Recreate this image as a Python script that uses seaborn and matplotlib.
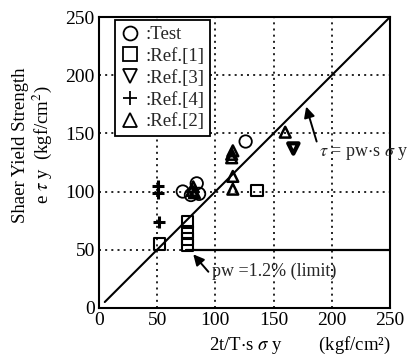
import matplotlib
matplotlib.use("Agg")
import matplotlib.pyplot as plt
from matplotlib.lines import Line2D
import seaborn as sns
import pandas as pd
import numpy as np

# data
test_x = [72, 84, 86, 79, 126]
test_y = [100, 107, 98, 97, 143]
ref1_x = [52, 76, 76, 76, 76, 136]
ref1_y = [55, 74, 65, 59, 54, 101]
ref3_x = [167]
ref3_y = [137]
ref4_x = [51, 51, 52]
ref4_y = [105, 99, 74]
ref2_x = [80, 81, 82, 114, 114, 115, 115, 115, 160]
ref2_y = [101, 104, 99, 129, 132, 135, 113, 102, 151]

labels = [":Test", ":Ref.[1]", ":Ref.[3]", ":Ref.[4]", ":Ref.[2]"]
limit_y = 49.5

sns.set_theme(style="white")
plt.rcParams["font.family"] = ["Liberation Serif", "DejaVu Serif"]
plt.rcParams["mathtext.fontset"] = "stix"

fig = plt.figure(figsize=(4.14, 3.63), dpi=100)
ax = fig.add_axes([0.239, 0.152, 0.703, 0.801])

groups = [
    (test_x, test_y, "o", 80, 1.3),
    (ref1_x, ref1_y, "s", 70, 1.5),
    (ref3_x, ref3_y, "v", 55, 3.0),
    (ref4_x, ref4_y, "+", 80, 2.2),
    (ref2_x, ref2_y, "^", 60, 1.8),
]
handles = []
for (xs, ys, m, s, lw), lab in zip(groups, labels):
    df = pd.DataFrame({"x": xs, "y": ys})
    if m == "+":
        sns.scatterplot(data=df, x="x", y="y", marker=m, s=s, color="black",
                        linewidth=lw, ax=ax, zorder=4)
    else:
        sns.scatterplot(data=df, x="x", y="y", marker=m, s=s, facecolor="none",
                        edgecolor="black", linewidth=lw, ax=ax, zorder=4)
    handles.append(Line2D([], [], marker=m, linestyle="none", markersize=10,
                          markerfacecolor="none", markeredgecolor="black",
                          markeredgewidth=1.3, label=lab))

# tau = pw * s sigma y  and the pw = 1.2% limit
line = np.array([5, 250])
ax.plot(line, line, color="black", lw=1.5, zorder=3)
ax.plot([75, 250], [limit_y, limit_y], color="black", lw=1.6, zorder=3)

ax.set_xlim(0, 250)
ax.set_ylim(0, 250)
ax.set_xticks(range(0, 251, 50))
ax.set_yticks(range(0, 251, 50))
ax.set_xticks(range(0, 251, 10), minor=True)
ax.set_yticks(range(0, 251, 10), minor=True)
ax.tick_params(axis="both", which="major", direction="in", length=9, width=1.3,
               labelsize=14, pad=3, colors="black")
ax.tick_params(axis="both", which="minor", direction="in", length=5, width=1.2)
ax.tick_params(top=False, right=False, which="both")
ax.grid(True, which="major", linestyle=(0, (1.2, 2.5)), color="black", lw=1.2)
for sp in ax.spines.values():
    sp.set_color("black")
    sp.set_linewidth(1.5)

ax.set_xlabel("2t/T$\\cdot$s $\\sigma$ y        (kgf/cm²)", fontsize=13.5,
              color="black", labelpad=4, x=0.69)
ax.set_ylabel("Shaer Yield Strength\ne $\\tau$ y  (kgf/cm$^2$)", fontsize=13.5,
              color="black", labelpad=8, y=0.56, linespacing=1.1)

ax.text(189, 133, "$\\tau$ = pw$\\cdot$s $\\sigma$ y", fontsize=13,
        ha="left", va="center", clip_on=False)
ax.annotate("", xy=(178, 173), xytext=(187, 143),
            arrowprops=dict(arrowstyle="-|>", color="black", lw=1.4,
                            shrinkA=0, shrinkB=0, mutation_scale=16))
ax.text(97, 31, "pw =1.2% (limit)", fontsize=13, ha="left", va="center")
ax.annotate("", xy=(81, 46), xytext=(94, 31),
            arrowprops=dict(arrowstyle="-|>", color="black", lw=1.4,
                            shrinkA=0, shrinkB=0, mutation_scale=16))

leg = ax.legend(handles=handles, loc="upper left", bbox_to_anchor=(0.05, 0.995),
                fontsize=13.5, frameon=True, fancybox=False, edgecolor="black",
                handlelength=1.0, handletextpad=0.3, labelspacing=0.25,
                borderpad=0.3, borderaxespad=0.1, framealpha=1)
leg.get_frame().set_linewidth(1.3)

fig.savefig("out.png", dpi=100)
